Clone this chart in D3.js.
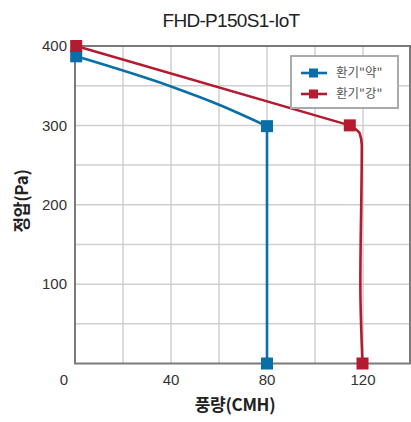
<!DOCTYPE html>
<html><head><meta charset="utf-8">
<script src="https://cdn.jsdelivr.net/npm/d3@7"></script>
<style>body{margin:0;background:#fff}svg{display:block}</style>
</head><body>
<svg id="c" width="411" height="422"></svg>
<script>
const title = "FHD-P150S1-IoT";
const xLabel = "풍량(CMH)";
const yLabel = "정압(Pa)";
const xTicks = [0, 40, 80, 120];
const yTicks = [100, 200, 300, 400];
const xGrid = [20, 40, 60, 80, 100, 120];
const yGrid = [50, 100, 150, 200, 250, 300, 350];
const seriesNames = ['환기"약"', '환기"강"'];
// blue (약): curved part then vertical drop
const weakCurveX = [0.5, 40, 60, 80];
const weakCurveY = [387, 349, 326, 299];
const weakDropX = [80, 80];
const weakDropY = [299, 0];
const weakMarkX = [0.5, 80, 80];
const weakMarkY = [387, 299, 0];
// red (강): straight part then rounded drop
const strongLineX = [0.5, 114.5];
const strongLineY = [400, 300];
const strongDropX = [114.5, 118.6, 119.5, 118.9, 119.8];
const strongDropY = [300, 290, 275, 100, 0];
const strongMarkX = [0.5, 114.5, 119.8];
const strongMarkY = [400, 300, 0];
const colors = ["#0a6ea8", "#b41a30"];

const svg = d3.select("#c");
const x = d3.scaleLinear().domain([0, 140]).range([75, 411]);
const y = d3.scaleLinear().domain([0, 400]).range([363.5, 46]);

// grid
svg.append("g").selectAll("line").data(xGrid).join("line")
  .attr("x1", d => x(d)).attr("x2", d => x(d)).attr("y1", y(400)).attr("y2", y(0))
  .attr("stroke", "#cfcfcf").attr("stroke-width", 1.5);
svg.append("g").selectAll("line").data(yGrid).join("line")
  .attr("x1", x(0)).attr("x2", x(140)).attr("y1", d => y(d)).attr("y2", d => y(d))
  .attr("stroke", "#cfcfcf").attr("stroke-width", 1.5);
// frame
svg.append("rect").attr("x", x(0)).attr("y", y(400)).attr("width", x(140) - 1 - x(0)).attr("height", y(0) - y(400))
  .attr("fill", "none").attr("stroke", "#7a7a7a").attr("stroke-width", 2);

// tick labels
svg.append("g").selectAll("text").data(yTicks).join("text")
  .attr("x", 67).attr("y", d => y(d)).attr("dy", "0.35em").attr("text-anchor", "end")
  .attr("font-family", "Liberation Sans, Arial, sans-serif").attr("font-size", 15).attr("fill", "#333")
  .text(d => d);
svg.append("g").selectAll("text").data(xTicks).join("text")
  .attr("x", d => d === 0 ? x(d) - 11 : x(d)).attr("y", 380).attr("dy", "0.35em").attr("text-anchor", "middle")
  .attr("font-family", "Liberation Sans, Arial, sans-serif").attr("font-size", 15).attr("fill", "#333")
  .text(d => d);

// axis titles
svg.append("text").attr("x", 235).attr("y", 405).attr("dy", "0.35em").attr("text-anchor", "middle")
  .attr("font-family", "Noto Sans CJK KR, sans-serif").attr("font-weight", "bold").attr("font-size", 17).attr("fill", "#222")
  .attr("letter-spacing", -0.3)
  .text(xLabel);
svg.append("text").attr("transform", "translate(22,201) rotate(-90)").attr("dy", "0.35em").attr("text-anchor", "middle")
  .attr("font-family", "Noto Sans CJK KR, sans-serif").attr("font-weight", "bold").attr("font-size", 17).attr("fill", "#222")
  .attr("letter-spacing", -0.3)
  .text(yLabel);
svg.append("text").attr("x", 231).attr("y", 20).attr("dy", "0.35em").attr("text-anchor", "middle")
  .attr("font-family", "Liberation Sans, Arial, sans-serif").attr("font-size", 19).attr("letter-spacing", -0.7).attr("fill", "#222")
  .text(title);

const zip = (xs, ys) => xs.map((v, i) => [v, ys[i]]);
const lineMX = d3.line().x(d => x(d[0])).y(d => y(d[1])).curve(d3.curveMonotoneX);
const lineMY = d3.line().x(d => x(d[0])).y(d => y(d[1])).curve(d3.curveMonotoneY);
const lineL = d3.line().x(d => x(d[0])).y(d => y(d[1]));

function drawPath(p, c) {
  svg.append("path").attr("d", p).attr("fill", "none").attr("stroke", c).attr("stroke-width", 2.6)
    .attr("stroke-linejoin", "round");
}
drawPath(lineMX(zip(weakCurveX, weakCurveY)), colors[0]);
drawPath(lineL(zip(weakDropX, weakDropY)), colors[0]);
drawPath(lineL(zip(strongLineX, strongLineY)), colors[1]);
drawPath(lineMY(zip(strongDropX, strongDropY)), colors[1]);

const ms = 12;
function markers(xs, ys, c) {
  svg.append("g").selectAll("rect").data(zip(xs, ys)).join("rect")
    .attr("x", d => x(d[0]) - ms / 2).attr("y", d => y(d[1]) - ms / 2)
    .attr("width", ms).attr("height", ms).attr("fill", c);
}
markers(weakMarkX, weakMarkY, colors[0]);
markers(strongMarkX, strongMarkY, colors[1]);

// legend
const lg = svg.append("g");
lg.append("rect").attr("x", 291).attr("y", 56).attr("width", 107).attr("height", 52)
  .attr("fill", "#fff").attr("stroke", "#aaa").attr("stroke-width", 2);
seriesNames.forEach((n, i) => {
  const cy = 73 + i * 21;
  lg.append("line").attr("x1", 301).attr("x2", 327).attr("y1", cy).attr("y2", cy)
    .attr("stroke", colors[i]).attr("stroke-width", 2.6);
  lg.append("rect").attr("x", 309).attr("y", cy - 4.5).attr("width", 9).attr("height", 9).attr("fill", colors[i]);
  lg.append("text").attr("x", 336).attr("y", cy).attr("dy", "0.35em")
    .attr("font-family", "Noto Sans CJK KR, sans-serif").attr("font-size", 12.5).attr("fill", "#555").text(n);
});
</script>
</body></html>
